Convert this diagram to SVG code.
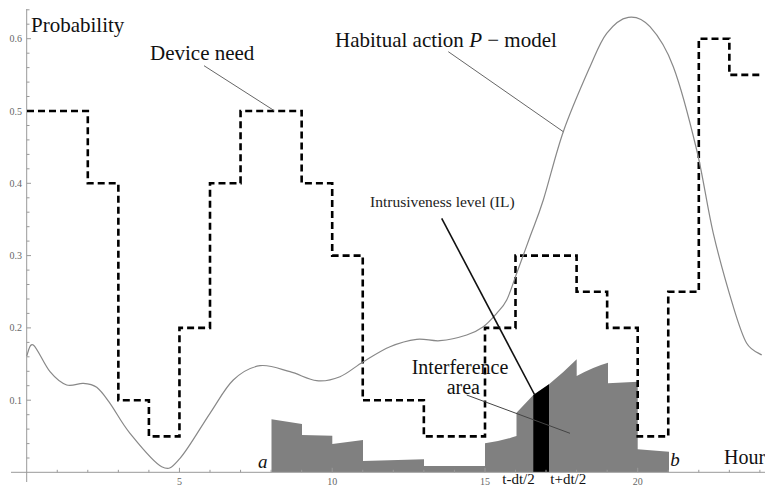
<svg xmlns="http://www.w3.org/2000/svg" width="765" height="487" viewBox="0 0 765 487">
<style>
.ax{stroke:#999;stroke-width:1;fill:none}
.tk{stroke:#999;stroke-width:1}
.tl{font-family:"Liberation Serif",serif;font-size:10px;fill:#666}
.lb{font-family:"Liberation Serif",serif;font-size:21px;fill:#111}
.it{font-style:italic}
.lead{stroke:#666;stroke-width:1;fill:none}
</style>
<rect width="765" height="487" fill="#fff"/>
<g id="histogram">
<path d="M271.5,472 V419.3 L302,424 V435 L332.3,435.7 V444 L363,440 V461 L424,459.3 V466 L485,466 V443.3 Q502,441 516.5,436 V412.7 L533.3,395 L549,384.3 Q563,373 576.7,359.3 V376 Q593,367 608,362.7 V383.3 L637.7,381.7 V449.3 L669,451.7 V472 Z" fill="#808080"/>
<path id="il-strip" d="M533.3,472 V395 L549,384.3 V472 Z" fill="#000"/>
</g>
<g id="axes">
<path class="ax" d="M26.7,9 V482 M11,472.3 H765"/>
<path class="tk" d="M26.7,458 H29.5 M26.7,443.6 H29.5 M26.7,429.1 H29.5 M26.7,414.7 H29.5 M26.7,400.2 H31 M26.7,385.7 H29.5 M26.7,371.3 H29.5 M26.7,356.8 H29.5 M26.7,342.4 H29.5 M26.7,327.9 H31 M26.7,313.4 H29.5 M26.7,299 H29.5 M26.7,284.5 H29.5 M26.7,270.1 H29.5 M26.7,255.6 H31 M26.7,241.1 H29.5 M26.7,226.7 H29.5 M26.7,212.2 H29.5 M26.7,197.8 H29.5 M26.7,183.3 H31 M26.7,168.8 H29.5 M26.7,154.4 H29.5 M26.7,139.9 H29.5 M26.7,125.5 H29.5 M26.7,111 H31 M26.7,96.5 H29.5 M26.7,82.1 H29.5 M26.7,67.6 H29.5 M26.7,53.2 H29.5 M26.7,38.7 H31 M26.7,24.2 H29.5 M26.7,9.8 H29.5"/>
<path class="tk" d="M57.25,472.3 V469.8 M87.8,472.3 V469.8 M118.35,472.3 V469.8 M148.9,472.3 V469.8 M179.45,472.3 V467.8 M210,472.3 V469.8 M240.55,472.3 V469.8 M271.1,472.3 V469.8 M301.65,472.3 V469.8 M332.2,472.3 V467.8 M362.75,472.3 V469.8 M393.3,472.3 V469.8 M423.85,472.3 V469.8 M454.4,472.3 V469.8 M485,472.3 V467.8 M515.5,472.3 V469.8 M546,472.3 V469.8 M576.6,472.3 V469.8 M607.15,472.3 V469.8 M637.7,472.3 V467.8 M668.25,472.3 V469.8 M698.8,472.3 V469.8 M729.35,472.3 V469.8 M759.9,472.3 V469.8"/>
<g class="tl" text-anchor="end">
<text x="22" y="42.2">0.6</text>
<text x="22" y="114.5">0.5</text>
<text x="22" y="186.8">0.4</text>
<text x="22" y="259.1">0.3</text>
<text x="22" y="331.4">0.2</text>
<text x="22" y="403.7">0.1</text>
</g>
<g class="tl" text-anchor="middle">
<text x="179.45" y="485">5</text>
<text x="332.2" y="485">10</text>
<text x="485" y="485">15</text>
<text x="637.7" y="485">20</text>
</g>
</g>
<g id="device-need">
<path d="M27,111 H87.8 V183.3 H118.35 V400.2 H148.9 V436.4 H179.45 V327.9 H210 V183.3 H240.55 V111 H301.65 V183.3 H332.2 V255.6 H362.75 V400.2 H423.85 V436.4 H485 V327.9 H515.5 V255.6 H576.6 V291.75 H607.15 V327.9 H637.7 V436.4 H668.25 V291.75 H698.8 V38.7 H729.35 V74.9 H762" fill="none" stroke="#000" stroke-width="2.6" stroke-dasharray="7 4"/>
</g>
<g id="habitual-curve">
<path d="M26.7,356 C27.8,354.17 29.42,342.38 33.3,345 C37.18,347.62 44.43,365.03 50,371.7 C55.57,378.37 61.15,383.07 66.7,385 C72.25,386.93 78.3,382.92 83.3,383.3 C88.3,383.68 92.25,383.97 96.7,387.3 C101.15,390.63 104.45,395.63 110,403.3 C115.55,410.97 121.38,422.73 130,433.3 C138.62,443.87 153.37,462.53 161.7,466.7 C170.03,470.87 171.95,467.2 180,458.3 C188.05,449.4 201.12,426.35 210,413.3 C218.88,400.25 224.97,387.93 233.3,380 C241.63,372.07 250.55,367.08 260,365.7 C269.45,364.32 280.55,369.2 290,371.7 C299.45,374.2 308.37,379.87 316.7,380.7 C325.03,381.53 332.23,379.87 340,376.7 C347.77,373.53 354.97,366.7 363.3,361.7 C371.63,356.7 381.1,350.43 390,346.7 C398.9,342.97 408.37,340.3 416.7,339.3 C425.03,338.3 431.67,341.42 440,340.7 C448.33,339.98 459.48,337.33 466.7,335 C473.92,332.67 478.3,330.32 483.3,326.7 C488.3,323.08 492.8,317.75 496.7,313.3 C500.6,308.85 503.37,306.67 506.7,300 C510.03,293.33 512.82,283.85 516.7,273.3 C520.58,262.75 525.57,248.92 530,236.7 C534.43,224.48 537.75,217.5 543.3,200 C548.85,182.5 555.52,153.92 563.3,131.7 C571.08,109.48 582.77,83.1 590,66.7 C597.23,50.3 600.32,41.53 606.7,33.3 C613.08,25.07 621.08,18.4 628.3,17.3 C635.52,16.2 642.5,18.47 650,26.7 C657.5,34.93 665.52,46.150 673.3,66.7 C681.08,87.25 690.03,122.23 696.7,150 C703.37,177.77 707.2,207.18 713.3,233.3 C719.4,259.42 727.73,288.37 733.3,306.7 C738.87,325.03 741.97,335.25 746.7,343.3 C751.43,351.35 759.2,353.05 761.7,355" fill="none" stroke="#888" stroke-width="1.2"/>
</g>
<g id="connectors">
<path class="lead" d="M204,65.7 L274,110.5"/>
<path class="lead" d="M448.3,51.7 L563.3,131.7"/>
<path d="M441.7,218.3 L534.5,394.5" fill="none" stroke="#111" stroke-width="1.6"/>
<path d="M466.7,395 L570,433.3" fill="none" stroke="#444" stroke-width="1"/>
</g>
<g id="labels">
<text id="label-probability" class="lb" x="31" y="31.7">Probability</text>
<text id="label-device-need" class="lb" x="150" y="60">Device need</text>
<text id="label-habitual" class="lb" x="335" y="46.7">Habitual action <tspan class="it">P</tspan> − model</text>
<text id="label-il" class="lb" x="370" y="206.7" style="font-size:15.5px;fill:#222">Intrusiveness level (IL)</text>
<text id="label-interference" class="lb" x="411.7" y="374" style="font-size:20px">Interference</text>
<text id="label-area" class="lb" x="446.7" y="394" style="font-size:20px">area</text>
<text id="label-a" class="lb it" x="262.7" y="468" text-anchor="middle" style="font-size:19px">a</text>
<text id="label-b" class="lb it" x="675" y="466" text-anchor="middle" style="font-size:19px">b</text>
<text id="label-hour" class="lb" x="724" y="463.5" style="font-size:20px">Hour</text>
<text id="label-tminus" class="lb" x="518.5" y="483.5" text-anchor="middle" style="font-size:15px">t-dt/2</text>
<text id="label-tplus" class="lb" x="568.3" y="483.5" text-anchor="middle" style="font-size:15px">t+dt/2</text>
</g>
</svg>
